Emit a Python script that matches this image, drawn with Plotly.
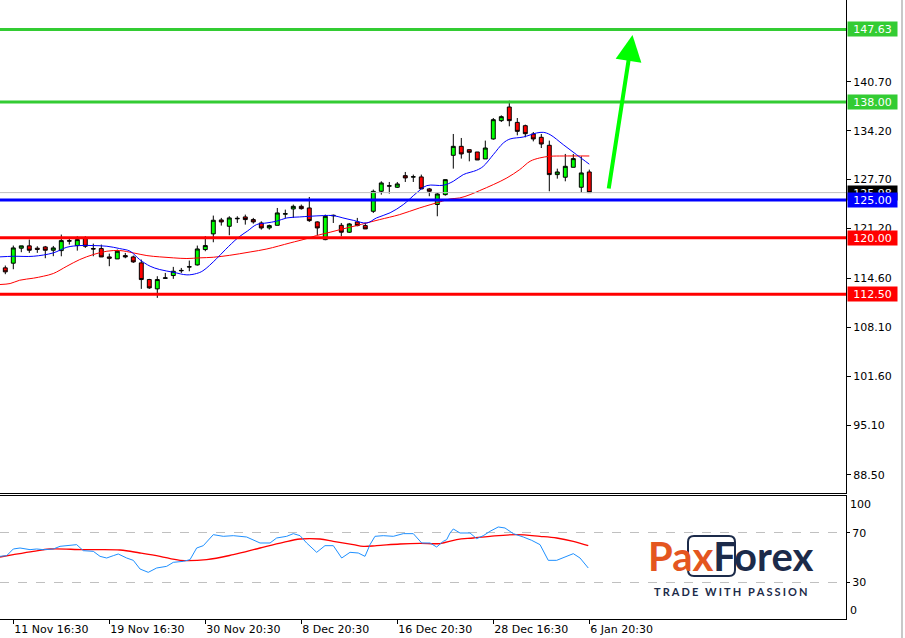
import plotly.graph_objects as go

# ---------------- data ----------------
candle_idx = list(range(74))
opens = [115.99,116.61,118.60,118.91,118.60,118.77,118.33,118.28,119.60,118.95,
         119.96,118.55,118.55,117.44,117.18,117.62,117.44,116.65,114.44,113.20,
         114.60,114.97,115.60,116.10,116.38,118.42,120.50,122.35,121.51,122.50,
         122.75,122.40,121.95,121.29,121.64,123.12,123.81,124.16,123.94,122.09,
         119.74,122.90,121.64,120.72,122.09,121.60,123.50,126.16,126.84,126.69,
         128.23,128.04,128.06,126.47,124.40,125.71,130.93,132.12,131.68,131.37,
         130.45,133.10,135.53,137.34,135.30,134.86,133.76,133.32,132.26,128.37,
         128.02,129.34,126.69,128.72]
highs = [116.30,118.95,118.91,119.75,118.86,118.90,118.90,120.41,119.88,120.19,
         120.19,119.21,119.08,117.88,118.42,117.97,117.62,117.09,114.53,114.88,
         115.32,116.12,115.98,116.96,118.95,120.20,122.93,122.62,122.84,122.84,
         123.06,122.62,122.17,121.73,123.94,123.72,124.39,124.39,125.40,122.17,
         123.06,123.06,121.95,121.95,122.62,121.95,126.38,127.48,127.39,127.39,
         128.72,128.37,128.37,126.60,125.93,127.70,133.76,133.23,131.68,131.37,
         132.88,135.88,136.23,138.18,135.88,135.00,134.02,133.76,132.88,129.16,
         131.11,131.11,130.80,129.03]
lows = [115.15,115.81,118.07,117.98,117.98,117.27,117.54,117.53,119.08,118.28,
        118.64,117.53,117.44,116.21,117.18,117.27,116.65,113.20,113.20,112.01,
        114.53,114.53,115.32,115.54,116.30,118.20,119.39,121.60,120.32,121.95,
        121.73,121.86,121.07,121.07,121.64,122.62,122.62,123.72,122.09,120.32,
        119.66,121.95,120.19,120.63,121.51,121.16,123.28,125.71,125.85,126.60,
        127.39,127.39,126.47,125.50,122.84,125.58,129.16,130.49,130.13,130.31,
        130.45,133.00,135.35,134.78,133.58,133.32,132.78,131.90,126.16,127.83,
        127.48,129.34,125.93,125.98]
closes = [115.46,118.64,118.91,118.33,118.45,118.33,118.64,119.61,119.55,119.74,
          118.86,118.50,117.44,117.27,118.20,117.45,116.78,114.44,113.33,114.44,
          114.66,115.54,115.65,116.14,118.50,118.95,122.31,122.09,122.62,122.56,
          122.40,122.09,121.29,121.60,123.28,123.18,124.16,123.85,122.26,121.29,
          122.84,122.96,120.72,121.82,121.60,121.16,126.15,127.26,126.88,127.13,
          127.93,128.08,126.47,126.16,125.80,127.70,132.12,131.11,131.33,130.31,
          131.90,135.66,136.06,135.53,134.11,133.80,133.10,132.43,128.37,128.72,
          129.47,130.49,128.59,125.98]

# fast moving average (blue)
ma_fast_x = [-0.66,1.0,3.5,6.0,7.7,9.3,11.0,12.7,14.3,15.6,16.8,18.1,19.3,21.0,22.7,23.9,24.7,26.4,27.5,29.1,
             30.3,31.4,32.7,33.9,35.2,36.8,38.1,39.8,41.0,42.2,43.5,45.2,46.4,48.1,49.75,51.4,52.7,54.75,56.0,
             57.25,58.9,59.75,61.0,62.25,63.1,64.75,66.4,67.25,68.1,69.75,71.4,73.0]
ma_fast_y = [117.45,117.53,117.53,117.98,118.73,118.95,118.95,118.86,118.55,118.20,117.09,116.21,115.77,115.41,115.06,115.24,115.6,117.2,118.4,120.0,
             120.9,121.73,121.96,122.18,122.62,122.75,122.84,122.93,122.93,122.62,122.3,121.95,122.62,123.3,124.39,125.93,126.91,126.95,127.48,
             128.37,128.94,129.47,131.02,132.56,133.1,133.36,133.89,133.98,133.67,132.34,131.02,129.75]
# slow moving average (red)
ma_slow_x = [-0.66,0.6,1.8,3.5,4.75,6.0,7.7,9.3,11.0,12.7,14.3,16.0,17.7,19.3,21.0,22.7,24.3,26.0,28.0,30.6,32.7,35.6,37.7,38.9,
             40.6,42.2,43.9,45.2,46.8,49.3,51.8,54.3,55.6,56.8,58.1,59.3,61.0,62.7,64.3,65.6,66.8,68.1,69.75,73.0]
ma_slow_y = [113.78,113.91,114.35,114.62,114.88,115.24,116.21,117.09,117.76,118.2,118.29,117.98,117.62,117.45,117.32,117.23,117.32,117.4,117.65,118.1,118.5,119.3,119.88,120.28,
             120.72,121.16,121.6,121.96,122.4,123.06,123.95,124.74,125.14,125.27,125.71,126.25,127.04,127.93,129.03,130.14,130.58,130.8,130.84,130.84]

# oscillator (blue) and its signal (red)
osc_x = [-0.66,0.17,1.0,1.84,3.09,3.92,4.75,6.0,6.84,7.67,8.92,9.75,11.0,11.84,12.67,13.5,14.12,15.17,16.0,16.84,17.87,18.92,20.17,
         21.0,22.25,23.09,23.92,24.75,26.0,27.25,28.5,30.17,31.84,33.09,33.92,35.17,36.0,36.84,37.67,38.92,39.96,41.0,42.05,43.09,
         44.12,44.96,45.59,46.21,47.25,48.5,49.75,51.0,52.05,53.09,53.92,54.75,55.17,55.59,56.0,56.84,58.09,58.92,59.75,60.59,61.62,
         62.46,63.5,64.75,65.8,66.84,67.87,68.92,69.96,71.0,71.84,72.87]
osc_y = [50.95,51.5,56.94,57.75,56.4,56.94,56.4,56.94,59.12,59.66,60.48,55.58,55.03,50.95,49.59,51.5,52.86,49.59,47.69,40.61,37.89,41.43,42.79,
         46.05,46.87,48.23,57.75,59.66,68.64,67.28,67.82,66.73,61.84,61.84,65.92,67.28,69.46,67.82,61.84,54.22,59.66,59.66,49.59,54.22,
         53.67,50.95,60.48,67.28,67.82,67.28,69.46,69.46,61.84,61.84,58.57,63.2,64.56,70.0,73.27,70.0,70.0,65.37,67.82,71.36,74.9,
         74.08,69.46,66.73,64.01,60.48,47.69,47.69,50.41,53.13,49.59,41.43]
sig_x = [-0.66,1.0,3.5,5.59,9.75,14.34,16.84,19.34,21.84,25.17,28.5,31.84,34.75,36.84,39.34,41.0,43.5,44.75,46.42,49.34,
         51.84,54.34,56.42,58.5,60.59,63.92,66.84,68.92,71.0,72.87]
sig_y = [50.41,52.31,55.03,56.94,56.4,56.12,53.67,50.95,47.69,48.23,52.31,57.75,62.38,65.1,65.1,63.2,60.48,59.12,59.66,61.02,
         61.56,61.4,64.56,65.92,67.28,68.64,67.28,65.92,63.2,59.66]

price_ticks = [88.50, 95.10, 101.60, 108.10, 114.60, 121.20, 127.70, 134.20, 140.70]
price_tick_text = ["88.50", "95.10", "101.60", "108.10", "114.60", "121.20", "127.70", "134.20", "140.70"]
time_tick_idx = [1, 13, 25, 37, 49, 61, 73]
time_tick_text = ["11 Nov 16:30", "19 Nov 16:30", "30 Nov 20:30", "8 Dec 20:30",
                  "16 Dec 20:30", "28 Dec 16:30", "6 Jan 20:30"]
osc_ticks = [70, 30]

levels = [147.63, 138.00, 125.00, 120.00, 112.50]
level_colors = ["#33CC33", "#33CC33", "#0000FF", "#FF0000", "#FF0000"]
current_price = 125.98
arrow_from = (75.4, 126.33)
arrow_to = (78.4, 146.9)

# ---------------- figure ----------------
W, H = 905, 638
ML, MR, MT, MB = 0, 59, 0, 19
PW, PH = W - ML - MR, H - MT - MB
FONT = "DejaVu Sans"

fig = go.Figure()
fig.add_trace(go.Candlestick(
    x=candle_idx, open=opens, high=highs, low=lows, close=closes,
    increasing=dict(line=dict(color="black", width=1), fillcolor="#00FF00"),
    decreasing=dict(line=dict(color="black", width=1), fillcolor="#FF0000"),
    whiskerwidth=0, xaxis="x", yaxis="y", showlegend=False, hoverinfo="skip"))
fig.add_trace(go.Scatter(x=ma_slow_x, y=ma_slow_y, mode="lines", line=dict(color="#FF0000", width=1, shape="spline"),
                         xaxis="x", yaxis="y", showlegend=False, hoverinfo="skip"))
fig.add_trace(go.Scatter(x=ma_fast_x, y=ma_fast_y, mode="lines", line=dict(color="#0000FF", width=1, shape="spline"),
                         xaxis="x", yaxis="y", showlegend=False, hoverinfo="skip"))
fig.add_trace(go.Scatter(x=sig_x, y=sig_y, mode="lines", line=dict(color="#FF0000", width=1.3, shape="spline"),
                         xaxis="x2", yaxis="y2", showlegend=False, hoverinfo="skip"))
fig.add_trace(go.Scatter(x=osc_x, y=osc_y, mode="lines", line=dict(color="#1E90FF", width=1),
                         xaxis="x2", yaxis="y2", showlegend=False, hoverinfo="skip"))

xr = [-0.6625, (PW - 5.3) / 8]
main_bottom_px, osc_top_px = 493, 495.5

shapes = []
annotations = []
# current price line
shapes.append(dict(type="line", xref="paper", x0=0, x1=1, yref="y", y0=current_price, y1=current_price,
                   line=dict(color="#C0C0C0", width=1), layer="above"))
for lv, col in zip(levels, level_colors):
    shapes.append(dict(type="line", xref="paper", x0=0, x1=1, yref="y", y0=lv, y1=lv,
                       line=dict(color=col, width=3), layer="above"))

def price_tag(val, col):
    return dict(xref="paper", x=1, xanchor="left", xshift=1, yref="y", y=val, yanchor="middle",
                text=f"{val:.2f}", showarrow=False, bgcolor=col, width=47, height=12, borderpad=1,
                font=dict(family=FONT, size=11, color="white"), align="center")

annotations.append(price_tag(current_price, "#000000"))
for lv, col in zip(levels, level_colors):
    annotations.append(price_tag(lv, col))

# arrow
annotations.append(dict(x=arrow_to[0], y=arrow_to[1], xref="x", yref="y", ax=arrow_from[0], ay=arrow_from[1],
                        axref="x", ayref="y", text="", showarrow=True, arrowhead=2, arrowsize=1.3,
                        arrowwidth=4, arrowcolor="#00FF00", standoff=0))

# oscillator 100 / 0 labels
for v, anc in ((100, "top"), (0, "bottom")):
    annotations.append(dict(xref="paper", x=1, xanchor="left", xshift=2, yref="y2", y=v, yanchor=anc,
                            text=str(v), showarrow=False, font=dict(family=FONT, size=11, color="black")))

# logo
def px(xp):
    return (xp - ML) / PW
def py(yp):
    return (H - MB - yp) / PH

navy = "#1C2B4A"
orange = "#E4561F"
annotations.append(dict(xref="paper", yref="paper", x=px(730), y=py(556), xanchor="center", yanchor="middle",
                        text=f"<b><span style='color:{orange}'>Pax</span><span style='color:{navy}'>Forex</span></b>",
                        showarrow=False, font=dict(family="Lato", size=40, color=navy)))
annotations.append(dict(xref="paper", yref="paper", x=px(730), y=py(591), xanchor="center", yanchor="middle",
                        text="<b>" + "\u2009\u200a".join("TRADE WITH PASSION") + "</b>",
                        showarrow=False, font=dict(family="Lato", size=11, color=navy)))

def rounded_rect(x0, y0, x1, y1, r):
    return (f"M {px(x0+r)},{py(y0)} L {px(x1-r)},{py(y0)} Q {px(x1)},{py(y0)} {px(x1)},{py(y0+r)} "
            f"L {px(x1)},{py(y1-r)} Q {px(x1)},{py(y1)} {px(x1-r)},{py(y1)} "
            f"L {px(x0+r)},{py(y1)} Q {px(x0)},{py(y1)} {px(x0)},{py(y1-r)} "
            f"L {px(x0)},{py(y0+r)} Q {px(x0)},{py(y0)} {px(x0+r)},{py(y0)} Z")

shapes.append(dict(type="path", xref="paper", yref="paper", path=rounded_rect(688, 536, 735, 576, 6),
                   line=dict(color=navy, width=2), layer="above"))
# right window strip
shapes.append(dict(type="line", xref="paper", yref="paper", x0=px(902), x1=px(902), y0=py(0), y1=py(H),
                   line=dict(color="#C8C8C8", width=2)))

fig.update_layout(
    width=W, height=H, margin=dict(l=ML, r=MR, t=MT, b=MB),
    paper_bgcolor="white", plot_bgcolor="white", showlegend=False,
    font=dict(family=FONT, size=11, color="black"),
    xaxis=dict(domain=[0, 1], anchor="y", range=xr, showticklabels=False, ticks="", showgrid=False,
               zeroline=False, showline=True, linecolor="black", linewidth=1, rangeslider=dict(visible=False),
               fixedrange=True),
    yaxis=dict(domain=[py(main_bottom_px), 1], anchor="x", side="right", range=[86.11, 151.543],
               tickvals=price_ticks, ticktext=price_tick_text, ticks="outside", ticklen=4, tickcolor="black",
               showgrid=False, zeroline=False, showline=True, linecolor="black", linewidth=1,
               tickfont=dict(family=FONT, size=11, color="black")),
    xaxis2=dict(domain=[0, 1], anchor="y2", range=xr, tickvals=time_tick_idx, ticktext=time_tick_text,
                ticks="outside", ticklen=4, tickcolor="black", ticklabelposition="outside right",
                showgrid=False, zeroline=False, showline=True, mirror=True, linecolor="black", linewidth=1,
                tickfont=dict(family=FONT, size=11, color="black")),
    yaxis2=dict(domain=[0, py(osc_top_px)], anchor="x2", side="right", range=[-0.2, 100.6],
                tickvals=osc_ticks, ticks="outside", ticklen=3, tickcolor="black",
                showgrid=True, gridcolor="#C0C0C0", griddash="dash", gridwidth=1,
                zeroline=False, showline=True, linecolor="black", linewidth=1,
                tickfont=dict(family=FONT, size=11, color="black")),
    shapes=shapes, annotations=annotations,
)

fig.write_html("out.html", config={"displayModeBar": False},
               post_script="document.body.style.margin='0px';document.body.style.overflow='hidden';")
